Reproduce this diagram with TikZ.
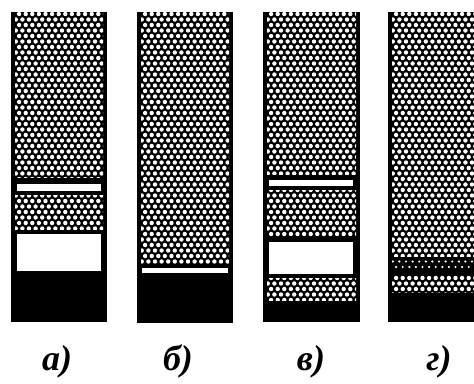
\documentclass[tikz,border=0pt]{standalone}
\usepackage{fontspec}
\setmainfont{Liberation Serif}
\usepackage{tikz}
\tikzset{tube/.style={fill=black},
	grain/.style={fill=white},
	gap/.style={fill=white},
	caption/.style={font=\fontsize{36}{36}\selectfont\bfseries\itshape,anchor=base,inner sep=0pt}}
% white grains in staggered rows, clipped to a band: x1,y1,x2,y2,radius
\newcommand{\grainband}[5]{%
	\begin{scope}
	\clip (#1,#2) rectangle (#3,#4);
	\pgfmathtruncatemacro\rowA{(#2-14)/5.5-1}
	\pgfmathtruncatemacro\rowB{(#4-14)/5.5+1}
	\foreach \row in {\rowA,...,\rowB} {
		\foreach \col in {0,...,15} {
			\fill[grain] ({\col*6.6+mod(abs(\row),2)*3.3+1.5},{\row*5.5+14}) circle (#5);
		}}
	\end{scope}}

\begin{document}
\begin{tikzpicture}[x=1pt,y=-1pt]
	\useasboundingbox (0,0) rectangle (474,383);
	\clip (0,0) rectangle (474,383);
	% a)
	\begin{scope}[shift={(11,0)}]
	\fill[tube] (0,12) rectangle (96,322);
	\grainband{4}{12}{92}{177}{2.2}
	\fill[gap] (6,184) rectangle (90,191);
	\grainband{4}{195}{92}{229}{2.2}
	\fill[gap] (6,234) rectangle (90,271);
	\end{scope}
	% b)
	\begin{scope}[shift={(137,0)}]
	\fill[tube] (0,12) rectangle (96,323);
	\grainband{4}{12}{92}{263}{2.2}
	\fill[gap] (5,268) rectangle (91,273);
	\end{scope}
	% c)
	\begin{scope}[shift={(263,0)}]
	\fill[tube] (0,12) rectangle (97,322);
	\grainband{4}{12}{93}{174}{2.2}
	\fill[gap] (6,180) rectangle (90,186);
	\grainband{4}{190}{93}{236}{2.2}
	\fill[gap] (6,242) rectangle (90,274);
	\grainband{4}{278}{93}{300}{2.2}
	\end{scope}
	% d)
	\begin{scope}[shift={(388,0)}]
	\fill[tube] (0,12) rectangle (97,322);
	\grainband{4}{12}{97}{256}{2.2}
	\grainband{4}{258}{97}{269}{1.2}
	\grainband{4}{275}{97}{292}{2.2}
	\end{scope}
	\node[caption] (labA) at (57,370) {а)};
	\node[caption] (labB) at (178,370) {б)};
	\node[caption] (labC) at (311,370) {в)};
	\node[caption] (labD) at (439,370) {г)};
\end{tikzpicture}
\end{document}
